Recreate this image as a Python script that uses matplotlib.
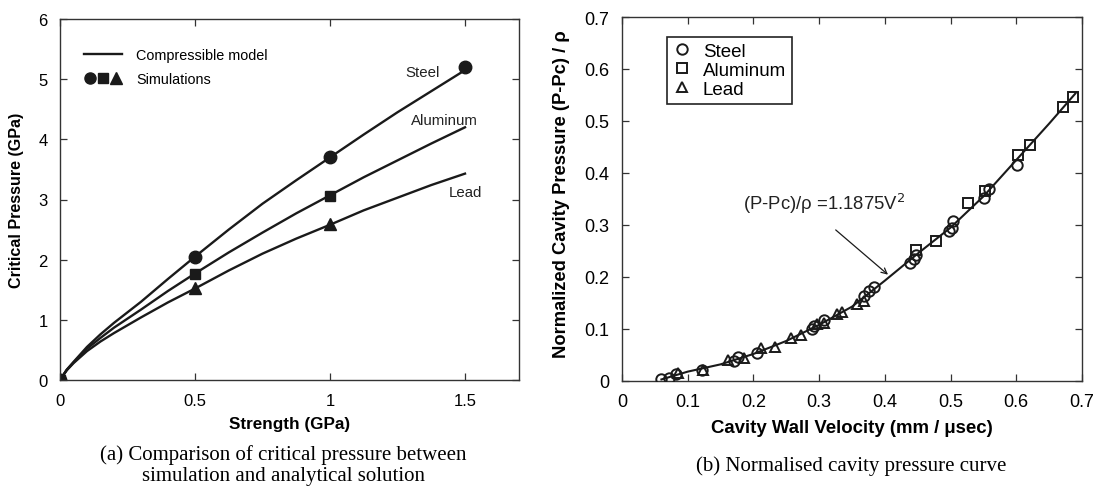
import matplotlib
matplotlib.use("Agg")
import matplotlib.pyplot as plt
from matplotlib.lines import Line2D
from matplotlib.legend_handler import HandlerTuple

plt.rcParams['font.family'] = ['Liberation Sans', 'DejaVu Sans']

# ---------------- Panel (a) data ----------------
strength_sim = [0.0, 0.5, 1.0, 1.5]
steel_sim = [0.0, 2.05, 3.70, 5.20]
strength_sim_al = [0.0, 0.5, 1.0]
alum_sim = [0.0, 1.77, 3.05]
lead_sim = [0.0, 1.53, 2.60]

strength_model = [0.0, 0.025, 0.05, 0.1, 0.15, 0.2, 0.3, 0.4, 0.5, 0.625, 0.75, 0.875, 1.0, 1.125, 1.25, 1.375, 1.5]
steel_model = [0.0, 0.17, 0.30, 0.55, 0.76, 0.95, 1.30, 1.68, 2.05, 2.50, 2.93, 3.32, 3.70, 4.08, 4.45, 4.80, 5.15]
alum_model = [0.0, 0.17, 0.29, 0.52, 0.70, 0.87, 1.17, 1.48, 1.77, 2.12, 2.45, 2.77, 3.07, 3.37, 3.65, 3.93, 4.20]
lead_model = [0.0, 0.16, 0.28, 0.48, 0.64, 0.78, 1.04, 1.29, 1.52, 1.82, 2.10, 2.35, 2.58, 2.82, 3.03, 3.24, 3.43]

# ---------------- Panel (b) data ----------------
steel_v = [0.059, 0.071, 0.082, 0.121, 0.171, 0.176, 0.205, 0.289, 0.292, 0.308, 0.369, 0.376, 0.384,
           0.438, 0.445, 0.447, 0.497, 0.502, 0.504, 0.551, 0.559, 0.601]
steel_p = [0.003, 0.005, 0.013, 0.022, 0.038, 0.046, 0.053, 0.100, 0.106, 0.117, 0.164, 0.173, 0.180,
           0.226, 0.235, 0.242, 0.289, 0.295, 0.308, 0.351, 0.369, 0.416]
alum_v = [0.448, 0.478, 0.527, 0.552, 0.603, 0.621, 0.671, 0.686]
alum_p = [0.251, 0.269, 0.343, 0.366, 0.435, 0.454, 0.527, 0.547]
lead_v = [0.085, 0.123, 0.161, 0.186, 0.212, 0.233, 0.257, 0.272, 0.297, 0.307, 0.327, 0.335, 0.357, 0.369]
lead_p = [0.015, 0.022, 0.040, 0.045, 0.063, 0.066, 0.083, 0.089, 0.109, 0.111, 0.128, 0.132, 0.149, 0.154]

fit_v = [0.060, 0.10, 0.15, 0.20, 0.25, 0.30, 0.35, 0.40, 0.45, 0.50, 0.55, 0.60, 0.65, 0.69]
fit_p = [0.003, 0.018, 0.032, 0.052, 0.077, 0.108, 0.143, 0.193, 0.245, 0.295, 0.355, 0.425, 0.495, 0.553]

W, H = 1108, 489
fig = plt.figure(figsize=(W / 100, H / 100), dpi=100)

spine_col = '#333333'

def style_axes(ax, fs, pad):
    for s in ax.spines.values():
        s.set_color(spine_col)
        s.set_linewidth(1.0)
    ax.tick_params(direction='in', length=5, width=0.9, color=spine_col,
                   top=True, right=True, labelsize=fs, pad=pad)

# ---------------- Panel (a) ----------------
ax1 = fig.add_axes([60 / W, 1 - 381 / H, (519 - 60) / W, (381 - 20) / H])
style_axes(ax1, 12, 9)
lc = '#1a1a1a'
ax1.plot(strength_model, steel_model, color=lc, lw=1.7)
ax1.plot(strength_model, alum_model, color=lc, lw=1.7)
ax1.plot(strength_model, lead_model, color=lc, lw=1.7)
ax1.plot(strength_sim, steel_sim, 'o', color=lc, ms=9, ls='none')
ax1.plot(strength_sim_al, alum_sim, 's', color=lc, ms=7.5, ls='none')
ax1.plot(strength_sim_al, lead_sim, '^', color=lc, ms=8.5, ls='none')
ax1.set_xlim(0, 1.7)
ax1.set_ylim(0, 6)
ax1.set_xticks([0, 0.5, 1, 1.5])
ax1.set_xticklabels(['0', '0.5', '1', '1.5'])
ax1.set_yticks(range(7))
ax1.set_xlabel('Strength (GPa)', fontsize=12.3, fontweight='bold', labelpad=6)
ax1.set_ylabel('Critical Pressure (GPa)', fontsize=11.6, fontweight='bold', labelpad=10)
ax1.text(1.28, 5.12, 'Steel', fontsize=10.8, va='center', color='#222222')
ax1.text(1.30, 4.32, 'Aluminum', fontsize=10.8, va='center', color='#222222')
ax1.text(1.44, 3.12, 'Lead', fontsize=10.8, va='center', color='#222222')

h_line = Line2D([], [], color=lc, lw=1.7)
h_c = Line2D([], [], marker='o', color=lc, ls='none', ms=8)
h_s = Line2D([], [], marker='s', color=lc, ls='none', ms=7)
h_t = Line2D([], [], marker='^', color=lc, ls='none', ms=8)
ax1.legend([h_line, (h_c, h_s, h_t)], ['Compressible model', 'Simulations'],
           handler_map={tuple: HandlerTuple(ndivide=None, pad=0.1)},
           loc='upper left', bbox_to_anchor=(0.025, 0.955), frameon=False,
           fontsize=10.4, handlelength=2.6, handletextpad=1.0, labelspacing=0.7)

# ---------------- Panel (b) ----------------
ax2 = fig.add_axes([622 / W, 1 - 382 / H, (1082 - 622) / W, (382 - 18) / H])
style_axes(ax2, 13, 9)
ax2.plot(fit_v, fit_p, color=lc, lw=1.5, zorder=2)
mk = dict(mfc='none', mec=lc, mew=1.4, ls='none', zorder=3)
ax2.plot(steel_v, steel_p, 'o', ms=7.5, label='Steel', **mk)
ax2.plot(alum_v, alum_p, 's', ms=6.5, label='Aluminum', **mk)
ax2.plot(lead_v, lead_p, '^', ms=7.5, label='Lead', **mk)
ax2.set_xlim(0, 0.7)
ax2.set_ylim(0, 0.7)
ticks_b = [0, 0.1, 0.2, 0.3, 0.4, 0.5, 0.6, 0.7]
tick_labels_b = ['0', '0.1', '0.2', '0.3', '0.4', '0.5', '0.6', '0.7']
ax2.set_xticks(ticks_b)
ax2.set_xticklabels(tick_labels_b)
ax2.set_yticks(ticks_b)
ax2.set_yticklabels(tick_labels_b)
ax2.set_xlabel('Cavity Wall Velocity (mm / μsec)', fontsize=13.4, fontweight='bold', labelpad=6)
ax2.set_ylabel('Normalized Cavity Pressure (P-Pc) / ρ', fontsize=13.2, fontweight='bold')
ax2.yaxis.set_label_coords(-0.112, 0.515)
leg = ax2.legend(loc='upper left', bbox_to_anchor=(0.078, 0.97), fontsize=13.5,
                 handlelength=1.0, handletextpad=0.6, labelspacing=0.1,
                 borderpad=0.3, fancybox=False, framealpha=1)
leg.get_frame().set_edgecolor('#222222')
leg.get_frame().set_linewidth(1.2)
ax2.annotate('', xy=(0.408, 0.201), xytext=(0.322, 0.294),
             arrowprops=dict(arrowstyle='->', color=lc, lw=0.9))
ax2.text(0.184, 0.342, '(P-Pc)/ρ =1.1875V$^2$', fontsize=13.3, va='center', color='#222222')

# ---------------- Captions ----------------
serif = ['Liberation Serif', 'DejaVu Serif']
fig.text(283 / W, 1 - 455 / H, '(a) Comparison of critical pressure between',
         ha='center', va='center', fontsize=15, family=serif)
fig.text(283 / W, 1 - 477 / H, 'simulation and analytical solution',
         ha='center', va='center', fontsize=15, family=serif)
fig.text(851 / W, 1 - 466 / H, '(b) Normalised cavity pressure curve',
         ha='center', va='center', fontsize=15, family=serif)

fig.savefig('out.png', dpi=100)
